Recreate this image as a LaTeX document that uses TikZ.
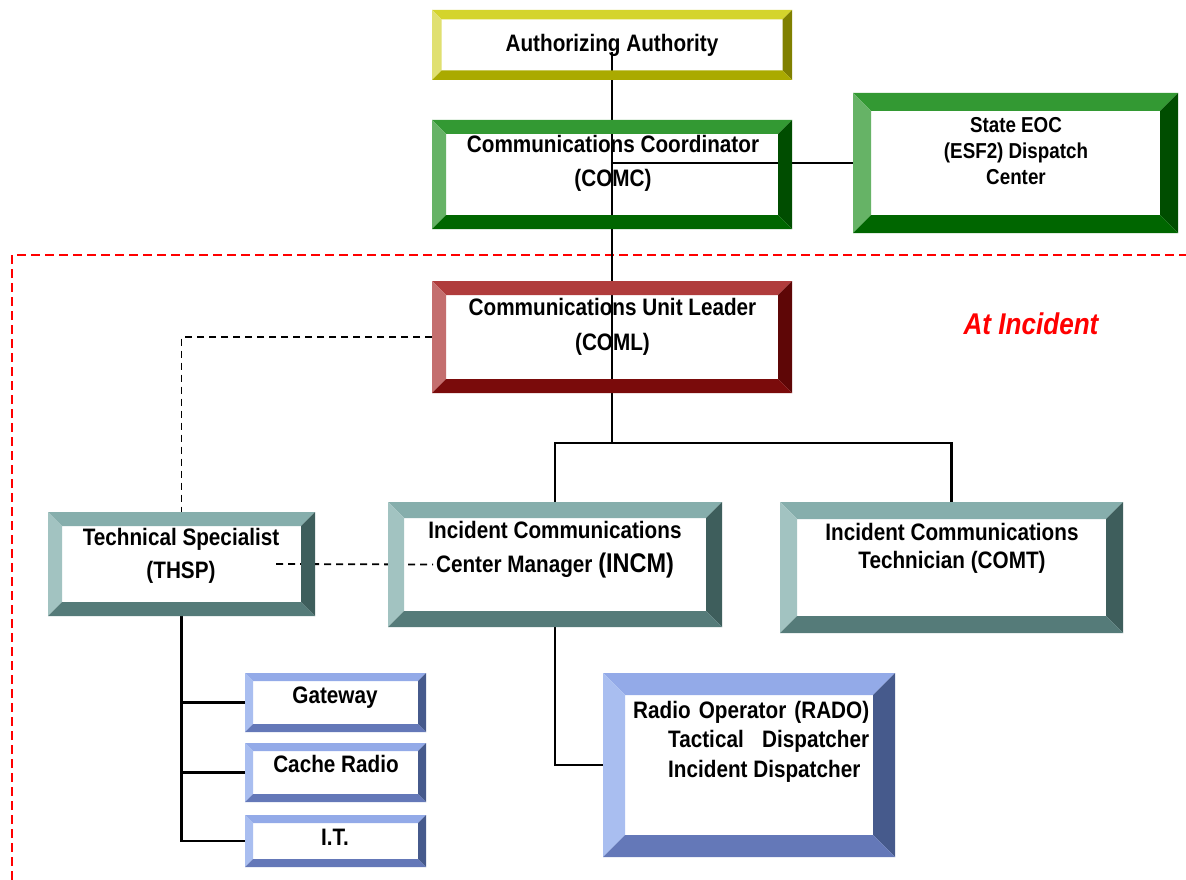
\documentclass[tikz,border=0pt]{standalone}
\usepackage{fontspec}
\setmainfont[FakeStretch=0.87]{Liberation Sans}
\usetikzlibrary{calc}
\definecolor{yT}{HTML}{D4D42C}\definecolor{yL}{HTML}{E0E070}\definecolor{yR}{HTML}{808000}\definecolor{yB}{HTML}{AAAA00}
\definecolor{gT}{HTML}{339933}\definecolor{gL}{HTML}{66B366}\definecolor{gR}{HTML}{004D00}\definecolor{gB}{HTML}{006600}
\definecolor{rT}{HTML}{B03C3C}\definecolor{rL}{HTML}{C46E6E}\definecolor{rR}{HTML}{5E0606}\definecolor{rB}{HTML}{7A0B0B}
\definecolor{tT}{HTML}{86AEAC}\definecolor{tL}{HTML}{A2C3C1}\definecolor{tR}{HTML}{3E5E5C}\definecolor{tB}{HTML}{557B79}
\definecolor{bT}{HTML}{93AAE8}\definecolor{bL}{HTML}{A9BEF0}\definecolor{bR}{HTML}{465A8C}\definecolor{bB}{HTML}{6478B8}
\tikzset{
  boxn/.style={rectangle,inner sep=0pt,outer sep=0pt,draw=none},
  conn/.style={line width=2.2pt,black},
  dconn/.style={line width=1.8pt,black,dash pattern=on 7pt off 5pt},
  lbl/.style={anchor=base,inner sep=0pt,font=\bfseries\fontsize{23.8}{34}\selectfont},
  border/.style={red,line width=2.4pt,dash pattern=on 9pt off 5pt}
}
\newcommand\mlines[1]{\begin{tabular}[t]{@{}c@{}}#1\end{tabular}}
\newcommand\bevelfaces[6]{%
  \fill[#3] (#1.north west) -- (#1.north east) -- ([shift={(-#2,#2)}]#1.north east) -- ([shift={(#2,#2)}]#1.north west) -- cycle;
  \fill[#4] (#1.north west) -- ([shift={(#2,#2)}]#1.north west) -- ([shift={(#2,-#2)}]#1.south west) -- (#1.south west) -- cycle;
  \fill[#5] (#1.north east) -- (#1.south east) -- ([shift={(-#2,-#2)}]#1.south east) -- ([shift={(-#2,#2)}]#1.north east) -- cycle;
  \fill[#6] (#1.south west) -- (#1.south east) -- ([shift={(-#2,-#2)}]#1.south east) -- ([shift={(#2,-#2)}]#1.south west) -- cycle;
}
\begin{document}
\begin{tikzpicture}[x=1pt,y=-1pt]
\fill[white] (0,0) rectangle (1186,880);
\useasboundingbox (0,0) rectangle (1186,880);

% boxes (outer rectangles)
\node[boxn,minimum width=360,minimum height=70]  (auth)  at (612,45) {};
\node[boxn,minimum width=360,minimum height=109] (comc)  at (612,174.5) {};
\node[boxn,minimum width=325,minimum height=140] (eoc)   at (1015.5,163) {};
\node[boxn,minimum width=360,minimum height=112] (coml)  at (612,337) {};
\node[boxn,minimum width=267,minimum height=104] (thsp)  at (181.5,564) {};
\node[boxn,minimum width=334,minimum height=125] (incm)  at (555,564.5) {};
\node[boxn,minimum width=343,minimum height=131] (comt)  at (951.5,567.5) {};
\node[boxn,minimum width=292,minimum height=184] (rado)  at (749,765) {};
\node[boxn,minimum width=181,minimum height=59]  (gw)    at (335.5,702.5) {};
\node[boxn,minimum width=181,minimum height=59]  (cache) at (335.5,772.5) {};
\node[boxn,minimum width=181,minimum height=52]  (it)    at (335.5,841) {};

% red incident boundary
\coordinate (bl) at (12,880);
\coordinate (tl) at (12,255);
\coordinate (tr) at (1186,255);
\draw[border] (bl) -- (tl) -- (tr);

% connectors
\coordinate (authline) at (612,52);
\coordinate (j) at (612,443);
\draw[conn] (authline) -- (j);
\draw[conn] (incm.north) |- (j) -| (comt.north);
\draw[conn] (comc.center |- eoc.west) -- (eoc.west);
\draw[conn] (incm.south) |- (rado.west);
\draw[conn] (thsp.south) |- (it.west);
\draw[conn] (thsp.south |- gw.west) -- (gw.west);
\draw[conn] (thsp.south |- cache.west) -- (cache.west);
\draw[dconn] (coml.west) -| (thsp.north);
\draw[dconn] ([xshift=-39pt]thsp.east) -- ([xshift=45pt]incm.west);

% bevels
\bevelfaces{auth}{9.5}{yT}{yL}{yR}{yB}
\bevelfaces{comc}{14}{gT}{gL}{gR}{gB}
\bevelfaces{eoc}{18}{gT}{gL}{gR}{gB}
\bevelfaces{coml}{14}{rT}{rL}{rR}{rB}
\bevelfaces{thsp}{14}{tT}{tL}{tR}{tB}
\bevelfaces{incm}{16}{tT}{tL}{tR}{tB}
\bevelfaces{comt}{17}{tT}{tL}{tR}{tB}
\bevelfaces{rado}{22}{bT}{bL}{bR}{bB}
\bevelfaces{gw}{8}{bT}{bL}{bR}{bB}
\bevelfaces{cache}{8}{bT}{bL}{bR}{bB}
\bevelfaces{it}{8}{bT}{bL}{bR}{bB}

% texts
\node[lbl] (auth-t) at (612,52) {Authorizing Authority};
\node[lbl,font=\bfseries\fontsize{23.8}{34}\selectfont] (comc-t) at (613,153) {\mlines{Communications Coordinator\\(COMC)}};
\node[lbl,font=\bfseries\fontsize{21.6}{26}\selectfont] (eoc-t) at (1016,132) {\mlines{State EOC\\(ESF2) Dispatch\\Center}};
\node[lbl,font=\bfseries\fontsize{23.8}{35}\selectfont] (coml-t) at (612.5,315) {\mlines{Communications Unit Leader\\(COML)}};
\node[lbl,font=\bfseries\itshape\fontsize{30}{34}\selectfont,text=red] (atinc) at (1031,334) {At Incident};
\node[lbl,font=\bfseries\fontsize{23.8}{33}\selectfont] (thsp-t) at (181,545) {\mlines{Technical Specialist\\(THSP)}};
\node[lbl,font=\bfseries\fontsize{23.8}{34}\selectfont] (incm-t) at (555,538) {\mlines{Incident Communications\\Center Manager {\fontsize{27}{34}\selectfont(INCM)}}};
\node[lbl,font=\bfseries\fontsize{23.8}{28}\selectfont] (comt-t) at (952,540) {\mlines{Incident Communications\\Technician (COMT)}};
\node[lbl,anchor=base west,font=\bfseries\fontsize{23.8}{29.5}\selectfont] (rado-t) at (633,718) {\begin{tabular}[t]{@{}l@{}}\makebox[236pt][s]{Radio Operator (RADO)}\\\hspace*{35pt}\makebox[201pt][s]{Tactical Dispatcher}\\\hspace*{35pt}Incident Dispatcher\end{tabular}};
\node[lbl] (gw-t) at (335,703) {Gateway};
\node[lbl] (cache-t) at (336,772) {Cache Radio};
\node[lbl] (it-t) at (335,845) {I.T.};
\end{tikzpicture}
\end{document}
